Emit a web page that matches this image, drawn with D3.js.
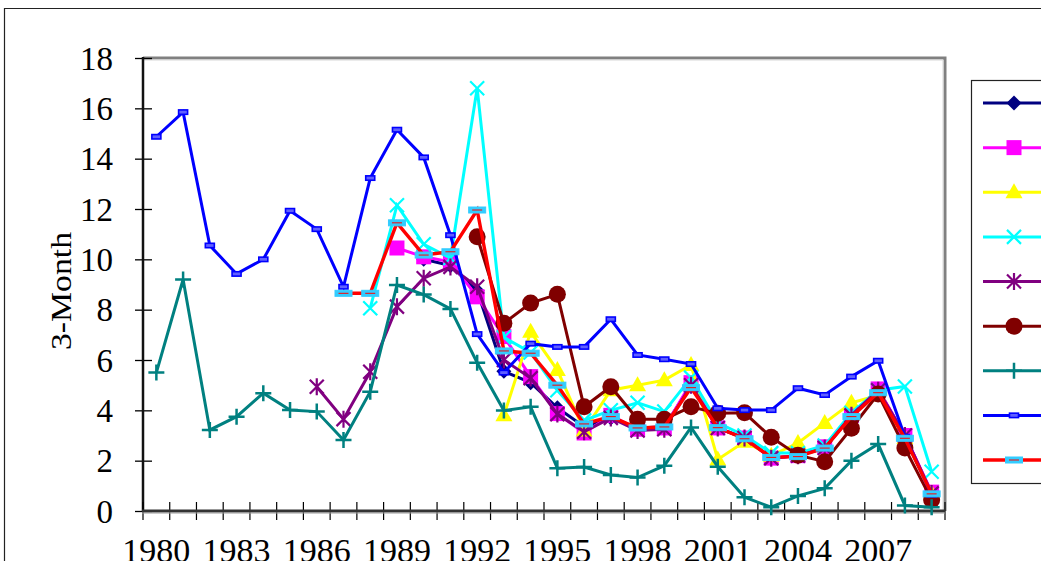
<!DOCTYPE html>
<html>
<head>
<meta charset="utf-8">
<script src="https://cdn.jsdelivr.net/npm/d3@7"></script>
<style>
  html, body { margin: 0; padding: 0; background: #fff; }
  svg { display: block; }
</style>
</head>
<body>
<div id="chart"></div>
<script>
// Categories (years) and x tick labels
const years = [1980, 1981, 1982, 1983, 1984, 1985, 1986, 1987, 1988, 1989,
               1990, 1991, 1992, 1993, 1994, 1995, 1996, 1997, 1998, 1999,
               2000, 2001, 2002, 2003, 2004, 2005, 2006, 2007, 2008, 2009];
const xTickLabels = [1980, 1983, 1986, 1989, 1992, 1995, 1998, 2001, 2004, 2007];
const yTickValues = [0, 2, 4, 6, 8, 10, 12, 14, 16, 18];
const yAxisTitle = "3-Month";

// 3-month rate series, one value per year (null = no data)
const s1 = [null, null, null, null, null, null, null, null, null, null,
            10.0, 9.75, 8.75, 5.55, 5.1, 4.1, 3.35, 3.7, 3.3, 3.35,
            5.0, 3.3, 2.9, 2.1, 2.2, 2.5, 3.8, 4.8, 3.0, 0.7];
const s2 = [null, null, null, null, null, null, null, null, null, 10.45,
            10.1, 9.9, 8.51, 6.93, 5.34, 3.87, 3.1, 3.8, 3.25, 3.3,
            5.1, 3.3, 2.9, 2.1, 2.2, 2.55, 3.8, 4.85, 3.0, 0.75];
const s3 = [null, null, null, null, null, null, null, null, null, null,
            null, null, null, 3.8, 7.12, 5.6, 3.2, 4.8, 5.0, 5.2,
            5.8, 2.05, 2.75, 2.2, 2.7, 3.5, 4.3, 4.6, 2.9, 0.7];
const s4 = [null, null, null, null, null, null, null, null, 8.06, 12.15,
            10.6, 10.05, 16.8, 6.9, 6.3, 4.8, 3.6, 4.0, 4.3, 3.95,
            5.3, 3.5, 3.0, 2.3, 2.3, 2.6, 3.9, 4.8, 4.95, 1.56];
const s5 = [null, null, null, null, null, null, 4.94, 3.65, 5.53, 8.12,
            9.25, 9.7, 8.91, 6.0, 5.28, 3.85, 3.15, 3.7, 3.2, 3.25,
            5.0, 3.3, 2.9, 2.1, 2.2, 2.5, 3.8, 4.8, 3.0, 0.7];
const s6 = [null, null, null, null, null, null, null, null, null, null,
            null, null, 10.9, 7.46, 8.26, 8.61, 4.14, 4.94, 3.65, 3.65,
            4.14, 3.88, 3.9, 2.93, 2.22, 1.96, 3.29, 4.65, 2.5, 0.44];
const s7 = [5.5, 9.2, 3.22, 3.75, 4.68, 4.01, 3.95, 2.82, 4.74, 8.98,
            8.6, 8.03, 5.89, 3.99, 4.14, 1.7, 1.75, 1.43, 1.33, 1.8,
            3.32, 1.76, 0.55, 0.15, 0.6, 0.9, 2.0, 2.66, 0.22, 0.15];
const s8 = [14.87, 15.85, 10.55, 9.42, 10.0, 11.93, 11.2, 8.91, 13.23, 15.15,
            14.05, 10.96, 7.03, 5.5, 6.65, 6.52, 6.52, 7.62, 6.2, 6.03,
            5.84, 4.08, 4.01, 4.01, 4.88, 4.61, 5.34, 5.97, 2.95, 0.65];
const s9 = [null, null, null, null, null, null, null, 8.65, 8.65, 11.45,
            10.17, 10.3, 11.96, 6.36, 6.27, 5.0, 3.46, 3.75, 3.3, 3.34,
            4.9, 3.31, 2.87, 2.13, 2.16, 2.5, 3.75, 4.7, 2.89, 0.68];

// Series styling: line colour and marker type
const series = [
  { values: s1, color: "#000080", marker: "diamond" },
  { values: s2, color: "#ff00ff", marker: "square" },
  { values: s3, color: "#ffff00", marker: "triangle" },
  { values: s4, color: "#00ffff", marker: "x" },
  { values: s5, color: "#800080", marker: "star" },
  { values: s6, color: "#800000", marker: "circle" },
  { values: s7, color: "#008080", marker: "plus" },
  { values: s8, color: "#0000ff", marker: "dash" },
  { values: s9, color: "#ff0000", marker: "bar" }
];

const W = 1041, H = 561;
const plot = { left: 143, right: 945, top: 58, bottom: 511 };

const svg = d3.select("#chart").append("svg")
  .attr("width", W).attr("height", H)
  .attr("viewBox", `0 0 ${W} ${H}`);

svg.append("rect").attr("width", W).attr("height", H).attr("fill", "#fff");

// Outer chart-area frame (only top and left edges are inside the view)
svg.append("path")
  .attr("d", `M4.5,${H} L4.5,8.5 L${W},8.5`)
  .attr("fill", "none").attr("stroke", "#222").attr("stroke-width", 1.2);

const x = d3.scaleBand().domain(years).range([plot.left, plot.right]).padding(0);
const y = d3.scaleLinear().domain([0, 18]).range([plot.bottom, plot.top]);
const cx = d => x(d) + x.bandwidth() / 2;

// Plot-area border (grey top and right)
svg.append("path")
  .attr("d", `M${plot.left},${plot.top} L${plot.right},${plot.top} L${plot.right},${plot.bottom}`)
  .attr("fill", "none").attr("stroke", "#808080").attr("stroke-width", 3);
svg.append("path")
  .attr("d", `M${plot.left},${plot.top + 2} L${plot.right - 2},${plot.top + 2} L${plot.right - 2},${plot.bottom}`)
  .attr("fill", "none").attr("stroke", "#d8d8d8").attr("stroke-width", 1);

const fontFamily = "'Liberation Serif', 'Times New Roman', serif";

// Y axis: labels from a d3 axis, crossing tick marks drawn from the same scale
const yAxis = d3.axisLeft(y).tickValues(yTickValues).tickSize(0).tickPadding(30)
  .tickFormat(d3.format("d"));
const gy = svg.append("g").attr("transform", `translate(${plot.left},0)`).call(yAxis);
gy.select(".domain").remove();
gy.selectAll("text")
  .attr("font-family", fontFamily).attr("font-size", 33).attr("fill", "#000")
  .attr("dy", "0.34em");
gy.selectAll(".tick").append("line")
  .attr("x1", -8).attr("x2", 9).attr("stroke", "#000").attr("stroke-width", 1.3);
svg.append("line")
  .attr("x1", plot.left).attr("x2", plot.left)
  .attr("y1", plot.top - 1).attr("y2", plot.bottom + 1)
  .attr("stroke", "#111").attr("stroke-width", 2.5);

// X axis: category boundary ticks crossing the axis
const boundaries = years.map(d => x(d)).concat([plot.right]);
svg.append("g").selectAll("line").data(boundaries).join("line")
  .attr("x1", d => d).attr("x2", d => d)
  .attr("y1", plot.bottom - 9).attr("y2", plot.bottom + 9)
  .attr("stroke", "#000").attr("stroke-width", 1.2);
svg.append("line")
  .attr("x1", plot.left - 1).attr("x2", plot.right)
  .attr("y1", plot.bottom).attr("y2", plot.bottom)
  .attr("stroke", "#333").attr("stroke-width", 3);
svg.append("line")
  .attr("x1", plot.left - 1).attr("x2", plot.right)
  .attr("y1", plot.bottom + 2).attr("y2", plot.bottom + 2)
  .attr("stroke", "#9a9a9a").attr("stroke-width", 1.2);

const xAxis = d3.axisBottom(x).tickValues(xTickLabels).tickSize(0).tickPadding(0);
const gx = svg.append("g").attr("transform", `translate(0,${plot.bottom})`).call(xAxis);
gx.select(".domain").remove();
gx.selectAll("text")
  .attr("font-family", fontFamily).attr("font-size", 34).attr("fill", "#000")
  .attr("dy", null).attr("y", 51);

// Y axis title
svg.append("text")
  .attr("transform", `translate(71,291) rotate(-90)`)
  .attr("text-anchor", "middle")
  .attr("font-family", fontFamily).attr("font-size", 30)
  .attr("textLength", 118).attr("lengthAdjust", "spacingAndGlyphs")
  .attr("fill", "#000")
  .text(yAxisTitle);

// Marker drawing
function drawMarker(g, type, color) {
  switch (type) {
    case "diamond":
      g.append("path").attr("d", "M0,-7.5L7.5,0L0,7.5L-7.5,0Z").attr("fill", color);
      break;
    case "square":
      g.append("rect").attr("x", -7.5).attr("y", -7.5).attr("width", 15).attr("height", 15)
        .attr("fill", color);
      break;
    case "triangle":
      g.append("path").attr("d", "M0,-9L8.5,6L-8.5,6Z").attr("fill", color);
      break;
    case "x":
      g.append("path").attr("d", "M-7,-7L7,7M-7,7L7,-7")
        .attr("stroke", color).attr("stroke-width", 2.2).attr("fill", "none");
      break;
    case "star":
      g.append("path").attr("d", "M-7,-7L7,7M-7,7L7,-7M0,-8.5L0,8.5")
        .attr("stroke", color).attr("stroke-width", 2.2).attr("fill", "none");
      break;
    case "circle":
      g.append("circle").attr("r", 8.5).attr("fill", color);
      break;
    case "plus":
      g.append("path").attr("d", "M-8,0L8,0M0,-8L0,8")
        .attr("stroke", color).attr("stroke-width", 2.5).attr("fill", "none");
      break;
    case "dash":
      g.append("rect").attr("x", -4.5).attr("y", -2.2).attr("width", 9).attr("height", 4.4)
        .attr("fill", "#6060ff").attr("stroke", color).attr("stroke-width", 1.6);
      break;
    case "bar":
      g.append("rect").attr("x", -8.5).attr("y", -3).attr("width", 17).attr("height", 6)
        .attr("fill", "#33ccff").attr("stroke", "#33ccff").attr("stroke-width", 1);
      g.append("line").attr("x1", -5).attr("x2", 5)
        .attr("stroke", color).attr("stroke-width", 1);
      break;
  }
}

const line = d3.line()
  .defined(d => d.v != null)
  .x(d => cx(d.year))
  .y(d => y(d.v));

const gSeries = svg.append("g");
series.forEach(s => {
  const pts = years.map((yr, i) => ({ year: yr, v: s.values[i] }));
  const g = gSeries.append("g");
  g.append("path").datum(pts)
    .attr("d", line)
    .attr("fill", "none")
    .attr("stroke", s.color)
    .attr("stroke-width", s.marker === "bar" ? 3.4 : 3)
    .attr("stroke-linejoin", "miter");
  g.selectAll("g.m").data(pts.filter(d => d.v != null)).join("g")
    .attr("class", "m")
    .attr("transform", d => `translate(${cx(d.year)},${y(d.v)})`)
    .each(function () { drawMarker(d3.select(this), s.marker, s.color); });
});

// Legend
const legend = { x: 971, y: 80, w: 90, h: 403 };
svg.append("rect")
  .attr("x", legend.x + 0.5).attr("y", legend.y + 0.5)
  .attr("width", legend.w).attr("height", legend.h)
  .attr("fill", "#fff").attr("stroke", "#222").attr("stroke-width", 1.2);
const legendY = d3.scalePoint().domain(d3.range(series.length))
  .range([legend.y + 23, legend.y + 380]);
series.forEach((s, i) => {
  const g = svg.append("g").attr("transform", `translate(0,${legendY(i)})`);
  g.append("line").attr("x1", 983).attr("x2", 1045)
    .attr("stroke", s.color).attr("stroke-width", s.marker === "bar" ? 3.4 : 3);
  const m = g.append("g").attr("transform", "translate(1014,0)");
  drawMarker(m, s.marker, s.color);
});
</script>
</body>
</html>
